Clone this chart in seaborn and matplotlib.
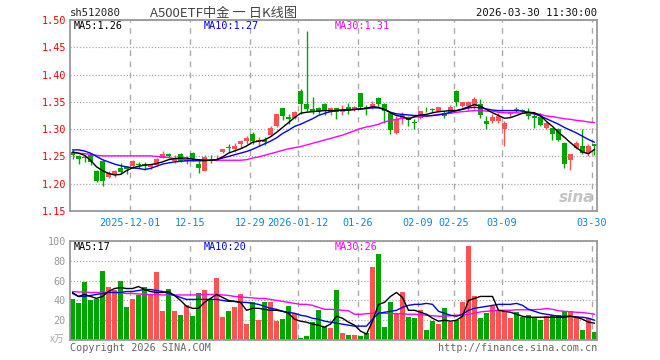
import numpy as np
import pandas as pd
import matplotlib
matplotlib.use('Agg')
import matplotlib.pyplot as plt
import seaborn as sns

# 日K数据, 88 个交易日 2025-11-17 .. 2026-03-30
open_ = [1.258, 1.251, 1.249, 1.253, 1.223, 1.242, 1.213, 1.217, 1.228, 1.231,
         1.233, 1.236, 1.236, 1.231, 1.234, 1.248, 1.254, 1.242, 1.254, 1.242,
         1.257, 1.237, 1.224, 1.244, 1.242, 1.258, 1.267, 1.263, 1.272, 1.278,
         1.291, 1.277, 1.280, 1.289, 1.306, 1.339, 1.323, 1.320, 1.370, 1.346,
         1.337, 1.338, 1.346, 1.332, 1.338, 1.332, 1.341, 1.335, 1.366, 1.341,
         1.341, 1.357, 1.346, 1.329, 1.293, 1.320, 1.322, 1.312, 1.320, 1.337,
         1.336, 1.334, 1.329, 1.332, 1.370, 1.342, 1.342, 1.342, 1.346, 1.315,
         1.315, 1.315, 1.300, 1.327, 1.336, 1.334, 1.329, 1.324, 1.323, 1.303,
         1.303, 1.300, 1.275, 1.244, 1.266, 1.270, 1.257, 1.273]
high = [1.262, 1.252, 1.253, 1.256, 1.225, 1.244, 1.224, 1.226, 1.238, 1.233,
        1.243, 1.240, 1.240, 1.237, 1.247, 1.260, 1.257, 1.252, 1.256, 1.250,
        1.258, 1.241, 1.253, 1.252, 1.252, 1.264, 1.272, 1.275, 1.280, 1.287,
        1.294, 1.285, 1.285, 1.305, 1.328, 1.339, 1.327, 1.333, 1.373, 1.480,
        1.358, 1.341, 1.348, 1.341, 1.338, 1.344, 1.348, 1.343, 1.367, 1.345,
        1.352, 1.358, 1.347, 1.330, 1.324, 1.331, 1.324, 1.319, 1.334, 1.340,
        1.339, 1.341, 1.333, 1.344, 1.371, 1.350, 1.351, 1.358, 1.356, 1.324,
        1.327, 1.329, 1.315, 1.332, 1.340, 1.337, 1.338, 1.328, 1.330, 1.314,
        1.303, 1.303, 1.276, 1.254, 1.278, 1.300, 1.272, 1.273]
low = [1.245, 1.237, 1.239, 1.235, 1.204, 1.195, 1.211, 1.213, 1.218, 1.217,
       1.228, 1.228, 1.226, 1.227, 1.232, 1.247, 1.247, 1.238, 1.240, 1.237,
       1.241, 1.219, 1.223, 1.238, 1.241, 1.257, 1.259, 1.259, 1.266, 1.272,
       1.272, 1.269, 1.271, 1.287, 1.304, 1.317, 1.309, 1.318, 1.327, 1.334,
       1.327, 1.327, 1.326, 1.326, 1.319, 1.326, 1.327, 1.334, 1.337, 1.326,
       1.337, 1.343, 1.312, 1.291, 1.292, 1.309, 1.305, 1.300, 1.319, 1.332,
       1.331, 1.331, 1.320, 1.329, 1.342, 1.341, 1.335, 1.336, 1.321, 1.300,
       1.312, 1.312, 1.269, 1.323, 1.331, 1.329, 1.318, 1.303, 1.305, 1.300,
       1.281, 1.278, 1.228, 1.226, 1.264, 1.254, 1.251, 1.253]
close = [1.253, 1.245, 1.248, 1.240, 1.205, 1.205, 1.219, 1.224, 1.221, 1.227,
         1.242, 1.235, 1.232, 1.235, 1.245, 1.254, 1.250, 1.247, 1.242, 1.246,
         1.245, 1.228, 1.249, 1.243, 1.246, 1.263, 1.265, 1.270, 1.278, 1.284,
         1.278, 1.280, 1.277, 1.303, 1.328, 1.325, 1.318, 1.332, 1.346, 1.337,
         1.334, 1.334, 1.334, 1.338, 1.332, 1.335, 1.334, 1.340, 1.341, 1.337,
         1.346, 1.346, 1.334, 1.299, 1.319, 1.328, 1.317, 1.311, 1.333, 1.336,
         1.335, 1.341, 1.324, 1.340, 1.350, 1.349, 1.350, 1.356, 1.326, 1.309,
         1.322, 1.324, 1.312, 1.330, 1.335, 1.333, 1.325, 1.320, 1.307, 1.311,
         1.291, 1.280, 1.236, 1.254, 1.275, 1.257, 1.269, 1.270]

ma5 = [1.258, 1.256, 1.252, 1.243, 1.231, 1.224, 1.219, 1.216, 1.217, 1.224,
       1.229, 1.232, 1.234, 1.235, 1.237, 1.240, 1.244, 1.246, 1.247, 1.247,
       1.245, 1.244, 1.243, 1.243, 1.244, 1.249, 1.256, 1.260, 1.264, 1.269,
       1.276, 1.278, 1.280, 1.286, 1.294, 1.303, 1.312, 1.321, 1.329, 1.331,
       1.332, 1.333, 1.334, 1.334, 1.334, 1.335, 1.335, 1.336, 1.337, 1.338,
       1.341, 1.340, 1.336, 1.330, 1.325, 1.323, 1.318, 1.323, 1.326, 1.327,
       1.330, 1.332, 1.333, 1.334, 1.334, 1.337, 1.341, 1.345, 1.342, 1.336,
       1.330, 1.325, 1.320, 1.321, 1.325, 1.329, 1.331, 1.330, 1.325, 1.314,
       1.305, 1.294, 1.285, 1.275, 1.266, 1.258, 1.255, 1.263]
ma10 = [1.262, 1.262, 1.260, 1.256, 1.250, 1.244, 1.240, 1.236, 1.233, 1.231,
        1.229, 1.228, 1.226, 1.228, 1.232, 1.236, 1.238, 1.240, 1.241, 1.242,
        1.242, 1.242, 1.242, 1.243, 1.244, 1.247, 1.250, 1.253, 1.256, 1.259,
        1.263, 1.268, 1.273, 1.278, 1.284, 1.292, 1.298, 1.305, 1.309, 1.314,
        1.319, 1.325, 1.329, 1.332, 1.334, 1.335, 1.336, 1.336, 1.337, 1.338,
        1.339, 1.339, 1.336, 1.331, 1.328, 1.327, 1.326, 1.325, 1.325, 1.324,
        1.325, 1.326, 1.328, 1.331, 1.334, 1.336, 1.339, 1.340, 1.339, 1.337,
        1.335, 1.334, 1.334, 1.334, 1.334, 1.333, 1.331, 1.328, 1.324, 1.319,
        1.314, 1.309, 1.303, 1.298, 1.293, 1.287, 1.281, 1.276]
ma30 = [1.257, 1.256, 1.255, 1.254, 1.252, 1.251, 1.251, 1.251, 1.251, 1.251,
        1.251, 1.251, 1.251, 1.251, 1.250, 1.249, 1.248, 1.246, 1.245, 1.244,
        1.243, 1.243, 1.243, 1.243, 1.243, 1.243, 1.243, 1.243, 1.243, 1.244,
        1.247, 1.249, 1.252, 1.255, 1.258, 1.261, 1.264, 1.266, 1.268, 1.271,
        1.274, 1.277, 1.280, 1.283, 1.286, 1.289, 1.293, 1.297, 1.301, 1.304,
        1.306, 1.309, 1.313, 1.316, 1.318, 1.320, 1.321, 1.322, 1.323, 1.324,
        1.325, 1.327, 1.328, 1.329, 1.331, 1.332, 1.333, 1.334, 1.334, 1.333,
        1.333, 1.331, 1.330, 1.330, 1.330, 1.329, 1.329, 1.328, 1.327, 1.324,
        1.323, 1.321, 1.319, 1.318, 1.316, 1.315, 1.313, 1.312]

# 成交量 (万)
volume = [41, 37, 59, 40, 41, 70, 54, 51, 60, 33, 41, 45, 54, 46, 69, 29, 52, 29,
          25, 35, 24, 47, 51, 40, 63, 23, 29, 33, 46, 16, 38, 20, 38, 38, 19, 21,
          34, 27, 2, 4, 18, 30, 13, 12, 51, 7, 5, 5, 4, 7, 74, 87, 13, 38, 26, 48,
          23, 22, 30, 10, 19, 16, 32, 18, 20, 38, 95, 44, 22, 27, 34, 30, 29, 22,
          28, 23, 25, 22, 20, 24, 25, 25, 29, 29, 24, 10, 22, 8]
vma5 = [48, 44, 46, 44, 42, 44, 49, 52, 53, 52, 52, 54, 51, 49, 48, 48, 49, 45,
        40, 34, 32, 32, 38, 42, 46, 43, 40, 39, 38, 30, 32, 32, 31, 30, 30, 29,
        27, 21, 19, 18, 16, 15, 13, 16, 24, 22, 18, 15, 9, 6, 19, 36, 38, 44, 48,
        43, 30, 30, 28, 26, 22, 19, 20, 19, 20, 24, 40, 42, 44, 44, 44, 30, 29,
        28, 26, 24, 23, 23, 23, 23, 23, 23, 23, 24, 23, 21, 18, 17]
vma10 = [47, 44, 44, 45, 46, 47, 48, 48, 48, 49, 49, 50, 51, 51, 50, 49, 47, 45,
         43, 41, 41, 41, 41, 41, 41, 40, 39, 39, 38, 38, 37, 36, 34, 32, 31, 29,
         28, 27, 25, 24, 22, 21, 19, 18, 17, 16, 15, 14, 14, 14, 21, 27, 28, 29,
         30, 33, 35, 36, 36, 37, 36, 29, 27, 25, 24, 26, 30, 32, 33, 34, 35, 36,
         36, 36, 37, 35, 31, 29, 27, 26, 25, 24, 24, 24, 23, 23, 22, 20]
vma30 = [49, 48.5, 48.5, 48, 48, 48, 48, 48, 47.5, 47, 47, 46.5, 46, 46, 46, 45.5,
         45.5, 45.5, 45.5, 45.5, 45.5, 45.5, 46, 46, 46, 45.5, 45, 44, 43.5, 43,
         42.5, 42, 42, 41, 40, 39, 38, 37, 36, 36, 35, 33, 31, 31, 30.5, 30, 29.5,
         26, 26, 26.5, 27, 27, 27, 26.7, 26.7, 26.5, 26, 26, 25.7, 25, 24.5, 24,
         24, 24.5, 25, 25, 26, 27, 28.4, 29, 29.5, 30, 30, 30, 30.5, 30.5, 30.5,
         30.7, 31, 31.8, 31, 29.5, 29, 28.5, 28, 27.7, 27, 26]

date_labels = ['2025-12-01', '12-15', '12-29', '2026-01-12', '01-26',
               '02-09', '02-25', '03-09', '03-30']
date_index = [10, 20, 30, 38, 48, 58, 64, 72, 87]
price_ticks = [1.15, 1.20, 1.25, 1.30, 1.35, 1.40, 1.45, 1.50]
vol_ticks = [20, 40, 60, 80, 100]
price_ma_text = ['MA5:1.26', 'MA10:1.27', 'MA30:1.31']
vol_ma_text = ['MA5:17', 'MA10:20', 'MA30:26']

RED = '#ff5252'
GREEN = '#00a600'
GRID = '#aaaaaa'
FRAME = '#999999'
MONO = 'DejaVu Sans Mono'

sns.set_style('white')
plt.rcParams['font.family'] = [MONO, 'Noto Sans CJK SC']

df = pd.DataFrame({'open': open_, 'high': high, 'low': low, 'close': close,
                   'vol': volume})
df['k'] = np.arange(len(df))
df['dir'] = np.where(df['close'] > df['open'], 'up', 'down')
cols = df['dir'].map({'up': RED, 'down': GREEN}).values

W, H = 660, 360
fig = plt.figure(figsize=(6.6, 3.6), dpi=100)
ax1 = fig.add_axes([70 / W, 1 - 211 / H, 527 / W, 191 / H])
ax2 = fig.add_axes([70 / W, 1 - 340 / H, 527 / W, 99 / H])

grid_x = [i - 0.42 for i in date_index]

# K线
body_lo = df[['open', 'close']].min(axis=1)
body_h = np.maximum((df['close'] - df['open']).abs(), 0.0012)
ax1.vlines(df['k'], df['low'], df['high'], colors=cols, lw=1, zorder=3)
ax1.bar(df['k'], body_h, bottom=body_lo, width=0.8, color=cols, lw=0, zorder=3)
sns.lineplot(x=df['k'], y=ma30, color='#ff00ff', lw=1, ax=ax1, zorder=4)
sns.lineplot(x=df['k'], y=ma10, color='#0000ff', lw=1, ax=ax1, zorder=4)
sns.lineplot(x=df['k'], y=ma5, color='black', lw=1, ax=ax1, zorder=5)

# 成交量
sns.barplot(data=df, x='k', y='vol', hue='dir', palette={'up': RED, 'down': GREEN},
            width=0.8, dodge=False, saturation=1, legend=False, linewidth=0,
            ax=ax2, zorder=3)
sns.lineplot(x=df['k'], y=vma30, color='#ff00ff', lw=1, ax=ax2, zorder=4)
sns.lineplot(x=df['k'], y=vma10, color='#0000ff', lw=1, ax=ax2, zorder=4)
sns.lineplot(x=df['k'], y=vma5, color='black', lw=1, ax=ax2, zorder=5)

for ax in (ax1, ax2):
    ax.set_xlim(-0.417, len(df) - 1 + 0.417)
    ax.set_xlabel('')
    ax.set_ylabel('')
    for gx in grid_x:
        ax.axvline(gx, color=GRID, lw=1, ls=(0, (4, 4)), zorder=1)
    ax.grid(axis='y', color=GRID, lw=0.9, ls=(0, (1, 1.5)), zorder=1)
    ax.grid(axis='x', visible=False)
    for s in ax.spines.values():
        s.set_color(FRAME)
        s.set_linewidth(1.3)
        s.set_zorder(6)

ax1.set_ylim(1.15, 1.50)
ax1.set_yticks(price_ticks)
ax1.set_yticklabels([f'{t:.2f}' for t in price_ticks])
ax1.tick_params(axis='y', length=0, pad=3, labelsize=7.3, labelcolor='red')
ax1.set_xticks(grid_x)
ax1.set_xticklabels(date_labels)
ax1.tick_params(axis='x', length=0, pad=5, labelsize=7.3, labelcolor='#0f86d8')

ax2.set_ylim(0, 100)
ax2.set_yticks(vol_ticks)
ax2.set_yticklabels([str(t) for t in vol_ticks])
ax2.tick_params(axis='y', length=0, pad=3, labelsize=7.3, labelcolor='#999999')
ax2.set_xticks([])

# 标题与标注
yh = 1 - 13 / H
fig.text(70 / W, yh, 'sh512080', ha='left', va='center', fontsize=7.6, color='#222222')
fig.text(224 / W, yh, 'A500ETF中金 一 日K线图', ha='center', va='center',
         fontsize=9.5, color='#444444', family=['Noto Sans CJK SC', 'DejaVu Sans'])
fig.text(597 / W, yh, '2026-03-30 11:30:00', ha='right', va='center',
         fontsize=7.6, color='#111111')

ma_cols = ['black', '#0000ff', '#ff00ff']
ma_x = [74, 204, 335]
for txt, c, x in zip(price_ma_text, ma_cols, ma_x):
    fig.text(x / W, 1 - 26 / H, txt, ha='left', va='center', fontsize=7.3, color=c)
for txt, c, x in zip(vol_ma_text, ma_cols, ma_x):
    fig.text(x / W, 1 - 247 / H, txt, ha='left', va='center', fontsize=7.3, color=c)

fig.text(50 / W, 1 - 339 / H, 'x万', ha='left', va='center', fontsize=7,
         color='#aaaaaa', family=['Noto Sans CJK SC', 'DejaVu Sans'])
fig.text(70 / W, 1 - 348 / H, 'Copyright 2026 SINA.COM', ha='left', va='center',
         fontsize=7.3, color='#666666')
fig.text(597 / W, 1 - 348 / H, 'http://finance.sina.com.cn', ha='right', va='center',
         fontsize=7.3, color='#666666')
ax1.text(0.995, 0.03, 'sina', transform=ax1.transAxes, ha='right', va='bottom',
         fontsize=11, fontweight='bold', fontstyle='italic', color='#c4c4c4',
         family='DejaVu Sans', zorder=2)

fig.savefig('out.png', dpi=100)
